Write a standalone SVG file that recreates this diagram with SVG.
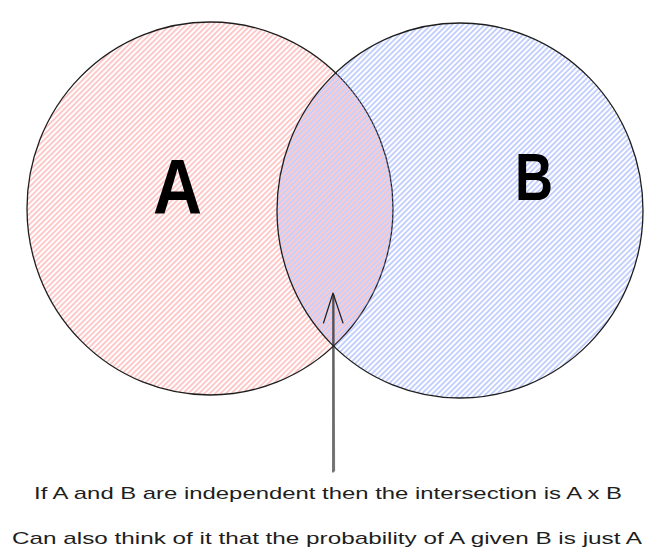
<svg xmlns="http://www.w3.org/2000/svg" width="653" height="560" viewBox="0 0 653 560">
  <style>
    .outline { stroke: #1e1e1e; stroke-width: 1.3; }
    .big { font-family: "Liberation Sans", Arial, sans-serif; font-weight: bold; fill: #000; }
    .note { font-family: "Liberation Sans", Arial, sans-serif; font-size: 17px; fill: #1e1e1e; }
    .conn { stroke: #1e1e1e; stroke-width: 1.2; fill: none; stroke-linecap: round; stroke-linejoin: round; }
  </style>
  <defs>
    <pattern id="hatchRed" patternUnits="userSpaceOnUse" width="3.8" height="3.8" patternTransform="rotate(-45)">
      <line x1="0" y1="1" x2="3.8" y2="1" stroke="#ff8787" stroke-width="1.1" stroke-opacity="0.8"/>
    </pattern>
    <pattern id="hatchBlue" patternUnits="userSpaceOnUse" width="3.8" height="3.8" patternTransform="rotate(-45)">
      <line x1="0" y1="2.9" x2="3.8" y2="2.9" stroke="#748ffc" stroke-width="1.1" stroke-opacity="0.75"/>
    </pattern>
  </defs>
  <rect width="653" height="560" fill="#ffffff"/>

  <g id="nodeA">
    <ellipse cx="210" cy="208.5" rx="183" ry="186.5" fill="url(#hatchRed)" class="outline"/>
  </g>
  <g id="nodeB">
    <ellipse cx="460" cy="210.5" rx="183" ry="187.5" fill="url(#hatchBlue)" class="outline"/>
  </g>
  <g id="labelA">
    <text class="big" x="153" y="214" font-size="78" textLength="49" lengthAdjust="spacingAndGlyphs">A</text>
  </g>
  <g id="labelB">
    <text class="big" x="515" y="200" font-size="67" textLength="38" lengthAdjust="spacingAndGlyphs">B</text>
  </g>

  <g id="connectors">
    <path class="conn" d="M333 472 L333 294"/>
    <path class="conn" d="M334.5 471 L334 295" stroke-opacity="0.6"/>
    <path class="conn" d="M323.5 323 L333 293 L343 323"/>
  </g>

  <g id="note">
    <text class="note" x="34" y="499" textLength="588" lengthAdjust="spacingAndGlyphs">If A and B are independent then the intersection is A x B</text>
    <text class="note" x="12" y="544" textLength="630" lengthAdjust="spacingAndGlyphs">Can also think of it that the probability of A given B is just A</text>
  </g>
</svg>
